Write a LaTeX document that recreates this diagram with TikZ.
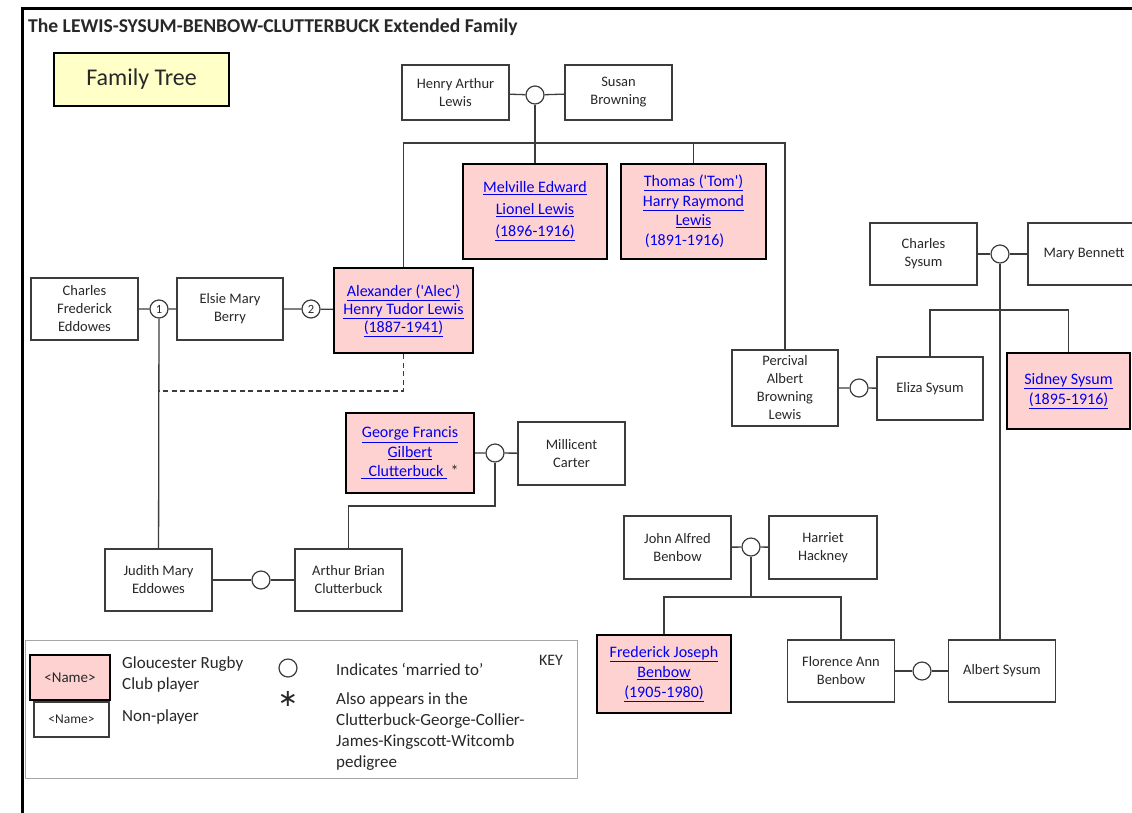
\documentclass[tikz,border=0pt]{standalone}
\usepackage{fontspec}
\setmainfont{Carlito}
\newfontfamily\symbolfont{DejaVu Sans}
\usetikzlibrary{positioning, calc}
\definecolor{playerpink}{RGB}{255,210,210}
\definecolor{treeyellow}{RGB}{255,255,200}
\definecolor{linkblue}{RGB}{0,0,240}
\definecolor{linegray}{RGB}{60,60,60}
\definecolor{textgray}{RGB}{40,40,40}
\newcommand{\lnk}[1]{\underline{#1}}

\begin{document}
\begin{tikzpicture}[
			x=1pt, y=-1pt,
			person_node/.style={
				rectangle,
				draw=linegray,
				line width=1.3pt,
				minimum width=107pt,
				minimum height=62pt,
				align=center,
				inner sep=2pt,
				text=textgray,
				font=\fontsize{14.5}{18}\selectfont
			},
			player_node/.style={
				rectangle,
				draw=black,
				line width=2.2pt,
				fill=playerpink,
				align=center,
				inner sep=2pt,
				text=linkblue,
				font=\fontsize{16}{18}\selectfont
			},
			marriage/.style={
				circle,
				draw=linegray,
				line width=1.2pt,
				minimum size=18pt,
				inner sep=0pt,
				text=textgray,
				font=\fontsize{12.5}{12.5}\selectfont
			},
			key_text/.style={
				anchor=west,
				align=left,
				inner sep=0pt,
				text=textgray,
				font=\fontsize{17}{21}\selectfont
			},
			line/.style={
				draw=linegray,
				line width=1.3pt
			}
			]
			
			\useasboundingbox (0,0) rectangle (1132,812);
			\fill[white] (0,0) rectangle (1132,812);
			
			% Frame and title
			
			\draw[line width=3pt, line cap=rect] (22,820) -- (22,8) -- (1140,8);
			\node [anchor=west, inner sep=0pt, text=textgray, font=\bfseries\fontsize{19.6}{19.6}\selectfont] (title) at (28,27) {The LEWIS-SYSUM-BENBOW-CLUTTERBUCK Extended Family};
			\node [rectangle, draw=black, line width=1.5pt, fill=treeyellow, minimum width=175pt, minimum height=53pt, text=textgray, font=\fontsize{24}{24}\selectfont] (tree_label) at (141.5,79.5) {Family Tree};
			
			% Lewis
			
			\node [person_node, minimum height=55pt] (henry) at (455.5,92.5) {Henry Arthur\\Lewis};
			\node [marriage] (m_hs) at (535,95) {};
			\node [person_node, minimum height=55pt] (susan) at (618.5,92.5) {Susan\\Browning};
			
			\node [player_node, minimum width=144pt, minimum height=95pt, font=\fontsize{16}{22}\selectfont] (melville) at (535,211.5) {\lnk{Melville Edward}\\\lnk{Lionel Lewis}\\\lnk{(1896-1916)}};
			\node [player_node, minimum width=145pt, minimum height=95pt, font=\fontsize{16}{19.5}\selectfont] (thomas) at (693.5,211.5) {\lnk{Thomas (\textquotesingle Tom\textquotesingle)}\\\lnk{Harry Raymond}\\\lnk{Lewis}\\(1891-1916)\hspace*{18pt}};
			
			\node [player_node, minimum width=139pt, minimum height=85pt] (alec) at (403.5,310.5) {\lnk{Alexander (\textquotesingle Alec\textquotesingle)}\\\lnk{Henry Tudor Lewis}\\\lnk{(1887-1941)}};
			\node [marriage] (m_ea) at (311,309) {2};
			\node [person_node, minimum width=106pt] (elsie) at (230,309) {Elsie Mary\\Berry};
			\node [marriage] (m_ce) at (159,309) {1};
			\node [person_node] (charles_e) at (84.5,309) {Charles\\Frederick\\Eddowes};
			
			% Clutterbuck
			
			\node [player_node, minimum width=128pt, minimum height=80pt, font=\fontsize{16}{19.5}\selectfont] (george) at (410,453) {\lnk{George Francis}\\\lnk{Gilbert}\\\lnk{\ \ Clutterbuck\ }\ {\color{textgray}*}};
			\node [marriage] (m_gm) at (495,453) {};
			\node [person_node, minimum height=63pt] (millicent) at (571.5,453.5) {Millicent\\Carter};
			
			\node [person_node] (judith) at (158.5,580) {Judith Mary\\Eddowes};
			\node [marriage] (m_ja) at (261,580) {};
			\node [person_node] (arthur) at (348.5,580) {Arthur Brian\\Clutterbuck};
			
			% Sysum
			
			\node [person_node] (charles_s) at (923.5,254) {Charles\\Sysum};
			\node [marriage] (m_cm) at (1000,254) {};
			\node [person_node, minimum width=112pt] (mary) at (1084,254) {Mary Bennett};
			
			\node [person_node, minimum width=106pt, minimum height=76pt] (percival) at (785,388) {Percival\\Albert\\Browning\\Lewis};
			\node [marriage] (m_pe) at (859,388) {};
			\node [person_node, minimum width=106pt, minimum height=63pt] (eliza) at (930,388.5) {Eliza Sysum};
			\node [player_node, minimum width=123pt, minimum height=76pt, font=\fontsize{16}{19.5}\selectfont] (sidney) at (1068.5,391) {\lnk{Sidney Sysum}\\\lnk{(1895-1916)}};
			
			% Benbow
			
			\node [person_node, minimum height=63pt] (john) at (677.5,547.5) {John Alfred\\Benbow};
			\node [marriage] (m_jh) at (751,547) {};
			\node [person_node, minimum width=108pt, minimum height=63pt] (harriet) at (823,547.5) {Harriet\\Hackney};
			
			\node [player_node, minimum width=134pt, minimum height=78pt, font=\fontsize{16}{20}\selectfont] (frederick) at (664,674) {\lnk{Frederick Joseph}\\\lnk{Benbow}\\\lnk{(1905-1980)}};
			\node [person_node] (florence) at (841,671) {Florence Ann\\Benbow};
			\node [marriage] (m_fa) at (922,671) {};
			\node [person_node] (albert) at (1002,671) {Albert Sysum};
			
			% Connections
			
			\coordinate (lewis_bar) at (535,143);
			\coordinate (dash_end) at (159,391);
			\coordinate (clutter_bar) at (495,506);
			\coordinate (sysum_bar) at (1000,310);
			\coordinate (benbow_bar) at (751,597);
			
			\draw[line] (henry) -- (m_hs) -- (susan);
			\draw[line] (m_hs) -- (lewis_bar);
			\draw[line] (alec.north) |- (lewis_bar) -| (percival.north);
			\draw[line] (melville.north) -- (melville.north |- lewis_bar);
			\draw[line] (thomas.north) -- (thomas.north |- lewis_bar);
			
			\draw[line] (charles_e) -- (m_ce) -- (elsie) -- (m_ea) -- (alec);
			\draw[line] (m_ce) -- (judith);
			\draw[line, dash pattern=on 5pt off 3.5pt] (alec.south) |- (dash_end);
			
			\draw[line] (george) -- (m_gm) -- (millicent);
			\draw[line] (m_gm) -- (clutter_bar) -| (arthur.north);
			\draw[line] (judith) -- (m_ja) -- (arthur);
			
			\draw[line] (charles_s) -- (m_cm) -- (mary);
			\draw[line] (m_cm) -- (m_cm |- albert.north);
			\draw[line] (eliza.north) |- (sysum_bar) -| (sidney.north);
			\draw[line] (percival) -- (m_pe) -- (eliza);
			
			\draw[line] (john) -- (m_jh) -- (harriet);
			\draw[line] (m_jh) -- (benbow_bar);
			\draw[line] (frederick.north) |- (benbow_bar) -| (florence.north);
			\draw[line] (florence) -- (m_fa) -- (albert);
			
			% Key
			
			\node [rectangle, draw=black!35, line width=1pt, minimum width=552pt, minimum height=138pt] (key_box) at (301,709) {};
			\node [player_node, text=textgray, minimum width=80pt, minimum height=45pt, font=\fontsize{15}{15}\selectfont] (key_player) at (70,677.5) {<Name>};
			\node [person_node, minimum width=75pt, minimum height=35pt, font=\fontsize{13.5}{13.5}\selectfont] (key_person) at (71.5,719.5) {<Name>};
			\node [key_text] (key_player_text) at (122,674) {Gloucester Rugby\\Club player};
			\node [key_text] (key_person_text) at (122,717) {Non-player};
			\node [marriage] (key_marriage) at (288,668) {};
			\node [inner sep=0pt, text=textgray, font=\symbolfont\fontsize{24}{24}\selectfont] (key_star) at (288,699) {∗};
			\node [key_text] (key_marriage_text) at (336,669) {Indicates `married to'};
			\node [key_text] (key_star_text) at (336,731.5) {Also appears in the\\Clutterbuck-George-Collier-\\James-Kingscott-Witcomb\\pedigree};
			\node [inner sep=0pt, text=textgray, font=\fontsize{16}{16}\selectfont] (key_title) at (551,660) {KEY};
			
		\end{tikzpicture}
\end{document}
